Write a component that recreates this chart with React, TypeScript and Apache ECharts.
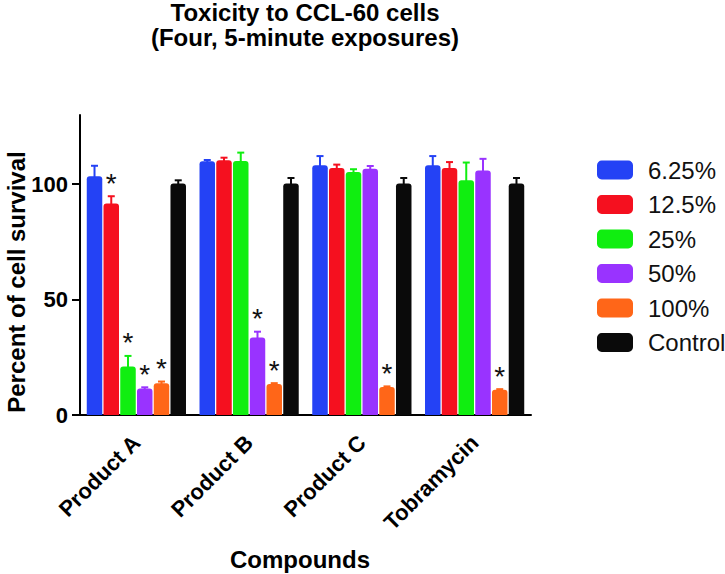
import React, { useEffect, useRef } from "react";
import * as echarts from "echarts";

const categories = ["Product A", "Product B", "Product C", "Tobramycin"];
const seriesNames = ["6.25%", "12.5%", "25%", "50%", "100%", "Control"];
const colors = ["#2442F5", "#F5101F", "#10EE10", "#9933FF", "#FF6618", "#0A0A0A"];

const v625 = [103.5, 110.0, 108.2, 108.2];
const v125 = [91.7, 110.4, 107.0, 107.0];
const v25 = [21.0, 110.1, 105.3, 101.7];
const v50 = [11.5, 33.6, 106.7, 106.0];
const v100 = [13.8, 13.4, 12.1, 10.9];
const vCtrl = [100.3, 100.3, 100.3, 100.3];

const e625 = [4.5, 0.5, 4.0, 4.0];
const e125 = [3.1, 1.1, 1.5, 2.6];
const e25 = [4.6, 3.6, 1.2, 7.7];
const e50 = [0.5, 2.5, 1.2, 5.0];
const e100 = [0.7, 0.4, 0.3, 0.3];
const eCtrl = [1.4, 2.4, 2.4, 2.4];

// significance asterisks (1 = marked)
const s625 = [0, 0, 0, 0];
const s125 = [1, 0, 0, 0];
const s25 = [1, 0, 0, 0];
const s50 = [1, 1, 0, 0];
const s100 = [1, 1, 1, 1];
const sCtrl = [0, 0, 0, 0];

const yTicks = [0, 50, 100];

const values = [v625, v125, v25, v50, v100, vCtrl];
const errors = [e625, e125, e25, e50, e100, eCtrl];
const sigs = [s625, s125, s25, s50, s100, sCtrl];

const FONT = "'Liberation Sans', Arial, Helvetica, sans-serif";
const CAT_GAP = 0.12;
const BAR_GAP = 0.08;
const N = seriesNames.length;

function makeRender(k: number) {
  return (params: any, api: any) => {
    const ci = api.value(0);
    const v = api.value(1);
    const e = api.value(2);
    const sig = api.value(3);
    const band = api.size([1, 0])[0];
    const groupW = band * (1 - CAT_GAP);
    const w = groupW / (N + (N - 1) * BAR_GAP);
    const step = w * (1 + BAR_GAP);
    const cx = api.coord([ci, 0])[0] - groupW / 2 + w / 2 + k * step;
    const yTop = api.coord([ci, v])[1];
    const yErr = api.coord([ci, v + e])[1];
    const children: any[] = [];
    if (e > 0) {
      children.push({
        type: "line",
        shape: { x1: cx, y1: yTop + 1, x2: cx, y2: yErr },
        style: { stroke: colors[k], lineWidth: 2 },
      });
      children.push({
        type: "line",
        shape: { x1: cx - 3.5, y1: yErr, x2: cx + 3.5, y2: yErr },
        style: { stroke: colors[k], lineWidth: 2 },
      });
    }
    if (sig) {
      children.push({
        type: "text",
        x: cx,
        y: yErr + 1,
        style: {
          text: "*",
          fill: "#111",
          fontSize: 28,
          fontFamily: FONT,
          align: "center",
          verticalAlign: "bottom",
        },
      });
    }
    return { type: "group", children };
  };
}

export default function App() {
  const ref = useRef<HTMLDivElement>(null);
  useEffect(() => {
    if (!ref.current) return;
    const chart = echarts.init(ref.current, null, { renderer: "svg" });
    const barSeries = seriesNames.map((name, k) => ({
      type: "bar",
      name,
      data: values[k],
      barGap: `${BAR_GAP * 100}%`,
      barCategoryGap: `${CAT_GAP * 100}%`,
      itemStyle: { color: colors[k], borderRadius: [3, 3, 0, 0] },
      z: 2,
    }));
    const errSeries = seriesNames.map((name, k) => ({
      type: "custom",
      name: "err_" + name,
      renderItem: makeRender(k),
      data: categories.map((c, i) => [i, values[k][i], errors[k][i], sigs[k][i]]),
      encode: { x: 0, y: 1 },
      z: 3,
      silent: true,
    }));
    chart.setOption({
      animation: false,
      textStyle: { fontFamily: FONT },
      grid: { left: 80, right: 194, top: 115, bottom: 159, outerBoundsMode: "none" },
      legend: {
        data: seriesNames,
        orient: "vertical",
        left: 597,
        top: 158,
        padding: 0,
        itemWidth: 36,
        itemHeight: 19,
        itemGap: 10.5,
        icon: "roundRect",
        textStyle: { fontSize: 24, color: "#111", fontFamily: FONT, padding: [0, 0, 0, 10] },
      },
      xAxis: {
        type: "category",
        data: categories,
        axisLine: { lineStyle: { color: "#000", width: 2 } },
        axisTick: { alignWithLabel: true, length: 9, lineStyle: { color: "#000", width: 2 } },
        axisLabel: {
          rotate: 45,
          margin: 24,
          fontSize: 22,
          fontWeight: "bold",
          color: "#000",
          fontFamily: FONT,
          interval: 0,
        },
      },
      yAxis: {
        type: "value",
        min: 0,
        max: 130,
        interval: 50,
        splitLine: { show: false },
        axisLine: { show: true, lineStyle: { color: "#000", width: 2 } },
        axisTick: { show: true, length: 8, lineStyle: { color: "#000", width: 2 }, customValues: yTicks },
        axisLabel: {
          customValues: yTicks,
          margin: 12,
          fontSize: 22,
          fontWeight: "bold",
          color: "#000",
          fontFamily: FONT,
          formatter: (v: number) => (yTicks.includes(v) ? String(v) : ""),
        },
      },
      graphic: [
        {
          type: "text",
          x: 305,
          y: 0,
          style: {
            text: "Toxicity to CCL-60 cells\n(Four, 5-minute exposures)",
            fontSize: 24,
            fontWeight: "bold",
            fontFamily: FONT,
            fill: "#000",
            align: "center",
            verticalAlign: "top",
            lineHeight: 25,
          },
        },
        {
          type: "text",
          x: 16,
          y: 282,
          rotation: Math.PI / 2,
          style: {
            text: "Percent of cell survival",
            fontSize: 24,
            fontWeight: "bold",
            fontFamily: FONT,
            fill: "#000",
            align: "center",
            verticalAlign: "middle",
          },
        },
        {
          type: "text",
          x: 300,
          y: 559,
          style: {
            text: "Compounds",
            fontSize: 24,
            fontWeight: "bold",
            fontFamily: FONT,
            fill: "#000",
            align: "center",
            verticalAlign: "middle",
          },
        },
      ],
      series: [...barSeries, ...errSeries],
    });
    return () => chart.dispose();
  }, []);
  return (
    <div
      ref={ref}
      style={{ position: "fixed", left: 0, top: 0, width: 725, height: 574, background: "#fff" }}
    />
  );
}
